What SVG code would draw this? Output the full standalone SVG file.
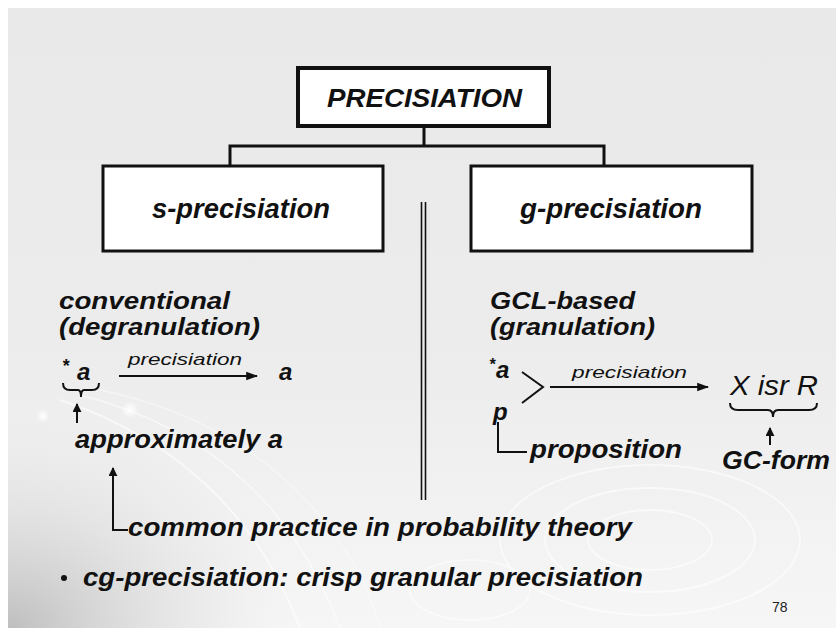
<svg xmlns="http://www.w3.org/2000/svg" width="836" height="628" viewBox="0 0 836 628">
<defs>
<linearGradient id="bg" x1="0" y1="0" x2="0" y2="1">
<stop offset="0" stop-color="#e9e9e9"/>
<stop offset="0.55" stop-color="#ececec"/>
<stop offset="1" stop-color="#f6f6f6"/>
</linearGradient>
<radialGradient id="dark" cx="0" cy="1" r="0.35">
<stop offset="0" stop-color="#b8b8b8" stop-opacity="0.9"/>
<stop offset="1" stop-color="#e0e0e0" stop-opacity="0"/>
</radialGradient>
<radialGradient id="dot" cx="0.5" cy="0.5" r="0.5">
<stop offset="0" stop-color="#ffffff"/>
<stop offset="1" stop-color="#ffffff" stop-opacity="0"/>
</radialGradient>
<marker id="ah" viewBox="0 0 10 10" refX="9" refY="5" markerWidth="6" markerHeight="6" orient="auto" markerUnits="strokeWidth">
<path d="M0,1.5 L10,5 L0,8.5 z" fill="#111"/>
</marker>
<marker id="ahs" viewBox="0 0 10 10" refX="9" refY="5" markerWidth="4.5" markerHeight="4.5" orient="auto" markerUnits="strokeWidth">
<path d="M0,0 L10,5 L0,10 z" fill="#111"/>
</marker>
</defs>
<style>
.t{font-family:"Liberation Sans",Arial,sans-serif;font-style:italic;font-weight:bold;fill:#111;}
.n{font-family:"Liberation Sans",Arial,sans-serif;font-style:italic;font-weight:normal;fill:#111;}
.box{fill:#fff;stroke:#111;}
.ln{fill:none;stroke:#111;stroke-width:3;}
.th{fill:none;stroke:#111;stroke-width:2;}
.deco{fill:none;stroke:#ffffff;stroke-opacity:0.55;}
</style>
<rect x="0" y="0" width="836" height="628" fill="#ffffff"/>
<rect x="8" y="8" width="828" height="620" fill="url(#bg)"/>
<rect x="8" y="8" width="828" height="620" fill="url(#dark)"/>
<g id="decoration">
<path class="deco" stroke-width="2" d="M60,400 C180,440 260,520 300,628"/>
<path class="deco" stroke-width="1.5" d="M80,395 C220,430 300,520 340,628"/>
<path class="deco" stroke-width="1" d="M100,390 C250,420 350,520 380,628"/>
<ellipse class="deco" stroke-width="2" cx="650" cy="540" rx="150" ry="75"/>
<ellipse class="deco" stroke-width="2" cx="650" cy="540" rx="105" ry="52"/>
<ellipse class="deco" stroke-width="2" cx="650" cy="540" rx="62" ry="30"/>
<ellipse class="deco" stroke-width="1.5" cx="470" cy="590" rx="60" ry="30"/>
<circle cx="43" cy="416" r="7" fill="url(#dot)"/>
<circle cx="130" cy="410" r="9" fill="url(#dot)"/>
</g>
<g id="connectors">
<path class="ln" d="M424,126 V146 M230,146 H604 M230,144.5 V166 M604,144.5 V166"/>
<path fill="none" stroke="#111" stroke-width="1.6" d="M421.5,202 V500 M425.5,202 V500"/>
<path class="th" marker-end="url(#ah)" d="M119,376 H257"/>
<path class="th" marker-end="url(#ah)" d="M550,387 H708"/>
<path class="th" marker-end="url(#ahs)" d="M77,423 V404"/>
<path class="th" marker-end="url(#ahs)" d="M770,445 V428"/>
<path class="th" marker-end="url(#ahs)" d="M128,530 H113 V468"/>
<path class="th" d="M498,422 V452 H527"/>
<path class="th" d="M522,372 L543,387 L522,403"/>
<path class="th" d="M63,383 Q63,390 70,390 H78 Q81,390 81,397 Q81,390 84,390 H92 Q99,390 99,383"/>
<path class="th" d="M730,403 Q730,410 738,410 H768 Q773,410 773,417 Q773,410 778,410 H809 Q817,410 817,403"/>
</g>
<g id="precisiation">
<rect class="box" x="298" y="68" width="251" height="58" stroke-width="4"/>
<text class="t" x="327" y="107" font-size="25" textLength="195" lengthAdjust="spacingAndGlyphs">PRECISIATION</text>
</g>
<g id="s-precisiation">
<rect class="box" x="103" y="166" width="280" height="85" stroke-width="3"/>
<text class="t" x="152" y="218" font-size="27" textLength="178" lengthAdjust="spacingAndGlyphs">s-precisiation</text>
</g>
<g id="g-precisiation">
<rect class="box" x="471" y="166" width="281" height="85" stroke-width="3"/>
<text class="t" x="520" y="218" font-size="27" textLength="182" lengthAdjust="spacingAndGlyphs">g-precisiation</text>
</g>
<g id="left">
<text class="t" x="59" y="309" font-size="24" textLength="171" lengthAdjust="spacingAndGlyphs">conventional</text>
<text class="t" x="59" y="335" font-size="24" textLength="201" lengthAdjust="spacingAndGlyphs">(degranulation)</text>
<text class="t" x="62" y="372" font-size="18">*</text>
<text class="t" x="77" y="380" font-size="24">a</text>
<text class="n" x="128" y="365" font-size="17" textLength="114" lengthAdjust="spacingAndGlyphs">precisiation</text>
<text class="t" x="279" y="380" font-size="24">a</text>
<text class="t" x="75" y="448" font-size="26" textLength="208" lengthAdjust="spacingAndGlyphs">approximately a</text>
<text class="t" x="128" y="536" font-size="26" textLength="504" lengthAdjust="spacingAndGlyphs">common practice in probability theory</text>
</g>
<g id="right">
<text class="t" x="490" y="309" font-size="24" textLength="145" lengthAdjust="spacingAndGlyphs">GCL-based</text>
<text class="t" x="490" y="335" font-size="24" textLength="165" lengthAdjust="spacingAndGlyphs">(granulation)</text>
<text class="t" x="489" y="370" font-size="16">*</text>
<text class="t" x="496" y="378" font-size="24">a</text>
<text class="t" x="493" y="420" font-size="24">p</text>
<text class="n" x="572" y="378" font-size="17" textLength="115" lengthAdjust="spacingAndGlyphs">precisiation</text>
<text class="n" x="730" y="395" font-size="27" textLength="88" lengthAdjust="spacingAndGlyphs">X isr R</text>
<text class="t" x="530" y="458" font-size="26" textLength="152" lengthAdjust="spacingAndGlyphs">proposition</text>
<text class="t" x="722" y="469" font-size="26" textLength="108" lengthAdjust="spacingAndGlyphs">GC-form</text>
</g>
<g id="bottom">
<circle cx="64" cy="578" r="3" fill="#111"/>
<text class="t" x="83" y="586" font-size="26" textLength="560" lengthAdjust="spacingAndGlyphs">cg-precisiation: crisp granular precisiation</text>
<text x="772" y="612" font-size="14" font-family="Liberation Sans, Arial, sans-serif" fill="#222">78</text>
</g>
</svg>
